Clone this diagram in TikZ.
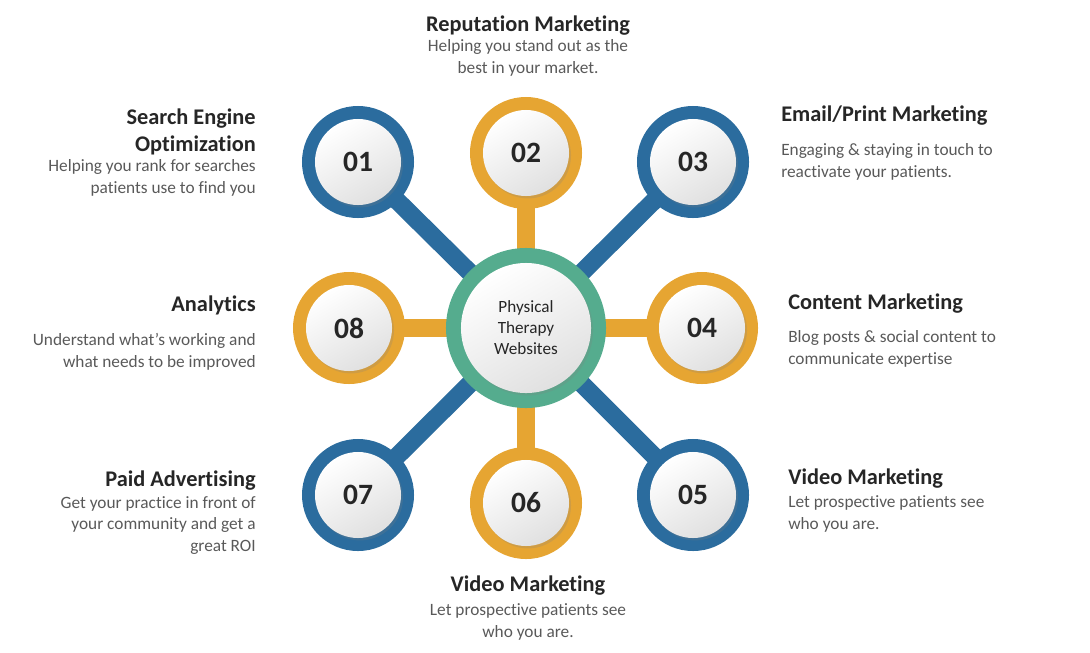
\documentclass[tikz,border=0pt]{standalone}
\usepackage{fontspec}
\setmainfont{Carlito}[RawFeature={-liga;-clig;-calt;-dlig}]
\usetikzlibrary{shadows}
\definecolor{ringblue}{HTML}{2B6C9E}
\definecolor{ringorange}{HTML}{E6A532}
\definecolor{ringgreen}{HTML}{55AC8E}
\definecolor{headgray}{HTML}{262626}
\definecolor{bodygray}{HTML}{595959}
\tikzset{
  spoke/.style={line width=0.45cm},
  disc/.style={circle, inner sep=0pt, minimum size=2.15cm,
    shading=axis, top color=white, bottom color=black!12, shading angle=30,
    drop shadow={opacity=0.22, shadow xshift=0.05cm, shadow yshift=-0.06cm},
    text=headgray, font=\fontsize{21}{21}\selectfont\bfseries},
  hubdisc/.style={disc, minimum size=3.25cm, align=center,
    font=\fontsize{12.2}{15}\selectfont},
  head/.style={inner sep=0pt, text=headgray, font=\fontsize{15.9}{18.5}\selectfont\bfseries},
  body/.style={inner sep=0pt, text=bodygray, font=\fontsize{12.3}{15}\selectfont}
}

\begin{document}
\begin{tikzpicture}[x=0.025cm,y=-0.025cm]
\useasboundingbox (0,0) rectangle (1090,652);
\coordinate (H) at (526,328);
\coordinate (P1) at (358,162);
\coordinate (P2) at (526,153);
\coordinate (P3) at (693,162);
\coordinate (P4) at (702,328);
\coordinate (P5) at (693,495);
\coordinate (P6) at (526,503);
\coordinate (P7) at (358,495);
\coordinate (P8) at (349,328);
% spokes
\draw[spoke, ringblue] (H) -- (P1);
\draw[spoke, ringblue] (H) -- (P3);
\draw[spoke, ringblue] (H) -- (P5);
\draw[spoke, ringblue] (H) -- (P7);
\draw[spoke, ringorange] (H) -- (P2);
\draw[spoke, ringorange] (H) -- (P4);
\draw[spoke, ringorange] (H) -- (P6);
\draw[spoke, ringorange] (H) -- (P8);
% rings
\fill[ringgreen] (H) circle (2cm);
\fill[ringblue] (P1) circle (1.4cm);
\fill[ringorange] (P2) circle (1.4cm);
\fill[ringblue] (P3) circle (1.4cm);
\fill[ringorange] (P4) circle (1.4cm);
\fill[ringblue] (P5) circle (1.4cm);
\fill[ringorange] (P6) circle (1.4cm);
\fill[ringblue] (P7) circle (1.4cm);
\fill[ringorange] (P8) circle (1.4cm);
\node[hubdisc] (hub) at (H) {Physical\\Therapy\\Websites};
\node[disc] (n01) at (P1) {01};
\node[disc] (n02) at (P2) {02};
\node[disc] (n03) at (P3) {03};
\node[disc] (n04) at (P4) {04};
\node[disc] (n05) at (P5) {05};
\node[disc] (n06) at (P6) {06};
\node[disc] (n07) at (P7) {07};
\node[disc] (n08) at (P8) {08};
% labels (base = last line)
\node[head, anchor=base] (t02) at (528,31) {Reputation Marketing};
\node[body, anchor=base, align=center] (d02) at (528,73) {Helping you stand out as the\\best in your market.};
\node[head, anchor=base east, align=right] (t01) at (256,151) {Search Engine\\Optimization};
\node[body, anchor=base east, align=right] (d01) at (256,193) {Helping you rank for searches\\patients use to find you};
\node[head, anchor=base west] (t03) at (781,121) {Email/Print Marketing};
\node[body, anchor=base west, align=left] (d03) at (781,177) {Engaging \& staying in touch to\\reactivate your patients.};
\node[head, anchor=base east] (t08) at (256,311) {Analytics};
\node[body, anchor=base east, align=right] (d08) at (256,367) {Understand what’s working and\\what needs to be improved};
\node[head, anchor=base west] (t04) at (788,309) {Content Marketing};
\node[body, anchor=base west, align=left] (d04) at (788,364) {Blog posts \& social content to\\communicate expertise};
\node[head, anchor=base east] (t07) at (256,486) {Paid Advertising};
\node[body, anchor=base east, align=right] (d07) at (256,551) {Get your practice in front of\\your community and get a\\great ROI};
\node[head, anchor=base west] (t05) at (788,484) {Video Marketing};
\node[body, anchor=base west, align=left] (d05) at (788,529) {Let prospective patients see\\who you are.};
\node[head, anchor=base] (t06) at (528,591) {Video Marketing};
\node[body, anchor=base, align=center] (d06) at (528,637) {Let prospective patients see\\who you are.};
\end{tikzpicture}
\end{document}
